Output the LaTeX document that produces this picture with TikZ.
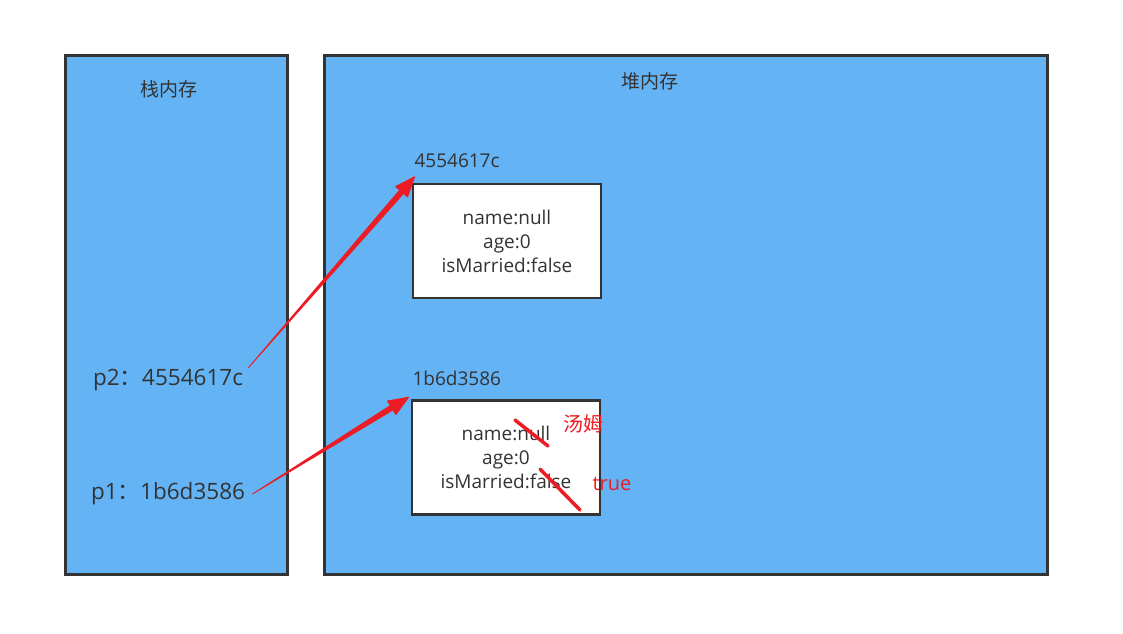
\documentclass[tikz,border=0pt]{standalone}
\usepackage{fontspec}
\setmainfont{Open Sans}
\newfontfamily\cjk{Noto Sans CJK SC}
\usepackage{xcolor}
\definecolor{memblue}{RGB}{99,179,245}
\definecolor{edgegray}{RGB}{51,51,51}
\definecolor{markred}{RGB}{237,28,36}
\usepackage{tikz}
\usetikzlibrary{positioning, calc}

% tapered red pointer from #1 to #2
\newcommand{\taperarrow}[2]{%
  \coordinate (hb) at ($(#2)!20pt!(#1)$);
  \filldraw[markred, line width=0.8pt, line join=round]
    (#1) -- ($(hb)!2.6pt!90:(#1)$) -- ($(hb)!8pt!90:(#1)$) -- (#2)
    -- ($(hb)!8pt!-90:(#1)$) -- ($(hb)!2.6pt!-90:(#1)$) -- cycle;}

\begin{document}
\begin{tikzpicture}[
    x=1pt, y=-1pt,
    font=\fontsize{19}{24}\selectfont,
    text=edgegray,
    memblock/.style={draw=edgegray, line width=2.6pt, fill=memblue, anchor=north west, inner sep=0pt},
    objblock/.style={draw=edgegray, line width=2.6pt, fill=white, align=center, minimum width=188pt, minimum height=114pt, inner sep=0pt},
    addrlabel/.style={font=\fontsize{19}{24}\selectfont, anchor=west},
    reflabel/.style={font=\fontsize{22.5}{26}\selectfont},
    fixmark/.style={markred, line width=3.5pt, line cap=round},
    fixtext/.style={text=markred, font=\fontsize{20}{24}\selectfont}
  ]
  \useasboundingbox (0,0) rectangle (1123,633);

  % memory areas
  \node (stack) [memblock, minimum width=222pt, minimum height=519pt] at (64,54) {};
  \node (heap) [memblock, minimum width=723pt, minimum height=519pt] at (323,54) {};
  \node (stacktitle) at (169,89) {\cjk 栈内存};
  \node (heaptitle) at (650,81) {\cjk 堆内存};

  % objects on the heap
  \node (obj1) [objblock] at (507,241) {name:null\\age:0\\isMarried:false};
  \node (obj2) [objblock] at (506,457.5) {name:null\\age:0\\isMarried:false};
  \node (addr1) [addrlabel] at (411,161) {4554617c};
  \node (addr2) [addrlabel] at (409,378) {1b6d3586};

  % references on the stack
  \node (p2) [reflabel] at (168,380) {p2{\cjk ：}4554617c};
  \node (p1) [reflabel] at (168,494) {p1{\cjk ：}1b6d3586};

  \coordinate (from2) at ($(p2.north east)+(2,2)$);
  \coordinate (from1) at ($(p1.east)+(4,0)$);
  \coordinate (tip1) at ($(obj1.north west)+(3,-6)$);
  \coordinate (tip2) at ($(obj2.north west)+(-2,-2)$);
  \taperarrow{from2}{tip1}
  \taperarrow{from1}{tip2}

  % changed values
  \draw[fixmark] (515,420) -- (548,446);
  \draw[fixmark] (540,469) -- (580,510);
  \node (newname) [fixtext] at (583,424) {\cjk 汤姆};
  \node (newflag) [fixtext] at (612,484) {true};

\end{tikzpicture}
\end{document}
